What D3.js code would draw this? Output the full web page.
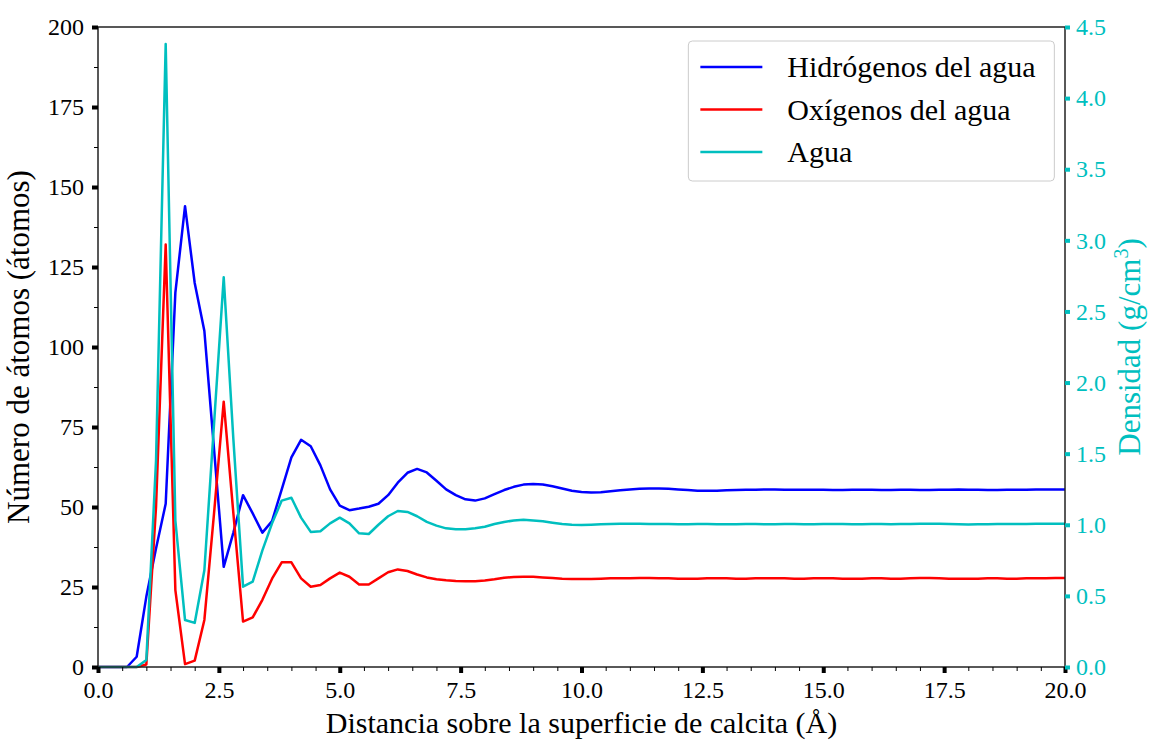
<!DOCTYPE html>
<html>
<head>
<meta charset="utf-8">
<script src="https://cdn.jsdelivr.net/npm/d3@7"></script>
<style>
  body { margin: 0; background: #fff; }
  text { font-family: "Liberation Serif", "Times New Roman", serif; }
</style>
</head>
<body>
<div id="chart"></div>
<script>
// distances (Å), sampled every 0.2
var distances = d3.range(0, 101).map(i => +(i * 0.2).toFixed(1));

// number of water hydrogens
var hydrogens = [
  0, 0, 0, 0, 3.2, 22, 37, 51, 117, 144,
  120, 105, 68, 31.3, 42, 53.7, 48, 42, 45.6, 55.5,
  65.5, 71, 69, 63, 55.5, 50.4, 49, 49.5, 50.1, 51,
  53.7, 57.6, 60.7, 61.9, 60.8, 58.2, 55.5, 53.7, 52.4, 52,
  52.7, 54, 55.3, 56.3, 57, 57.2, 57, 56.5, 55.8, 55.1,
  54.7, 54.5, 54.6, 54.9, 55.2, 55.5, 55.7, 55.8, 55.8, 55.7,
  55.5, 55.3, 55.1, 55.1, 55.1, 55.2, 55.3, 55.4, 55.4, 55.5,
  55.5, 55.4, 55.4, 55.4, 55.4, 55.4, 55.3, 55.3, 55.4, 55.4,
  55.4, 55.3, 55.3, 55.4, 55.4, 55.3, 55.3, 55.4, 55.4, 55.5,
  55.4, 55.4, 55.3, 55.3, 55.4, 55.4, 55.4, 55.5, 55.5, 55.5,
  55.5
];

// number of water oxygens
var oxygens = [
  0, 0, 0, 0, 0, 0.8, 50, 132, 24, 0.9,
  2, 14.7, 48, 82.9, 48, 14.2, 15.5, 21, 27.6, 32.7,
  32.7, 27.7, 25.1, 25.6, 27.7, 29.5, 28.2, 25.8, 25.8, 27.7,
  29.6, 30.5, 30, 28.9, 28, 27.4, 27.1, 26.9, 26.8, 26.8,
  27, 27.4, 27.9, 28.1, 28.2, 28.2, 28, 27.8, 27.6, 27.5,
  27.5, 27.5, 27.6, 27.7, 27.7, 27.7, 27.8, 27.8, 27.7, 27.7,
  27.6, 27.6, 27.6, 27.7, 27.7, 27.7, 27.6, 27.6, 27.7, 27.7,
  27.7, 27.7, 27.6, 27.6, 27.7, 27.7, 27.7, 27.6, 27.6, 27.6,
  27.7, 27.7, 27.6, 27.6, 27.7, 27.8, 27.8, 27.7, 27.6, 27.6,
  27.6, 27.6, 27.7, 27.7, 27.6, 27.6, 27.7, 27.7, 27.7, 27.8,
  27.8
];

// water density (g/cm3)
var density = [
  0, 0, 0, 0, 0, 0.05, 1.45, 4.38, 1.03, 0.33,
  0.31, 0.68, 1.71, 2.74, 1.6, 0.565, 0.6, 0.82, 1.01, 1.17,
  1.19, 1.05, 0.95, 0.955, 1.01, 1.05, 1.01, 0.94, 0.935, 1.0,
  1.06, 1.097, 1.09, 1.06, 1.02, 0.994, 0.975, 0.968, 0.968, 0.975,
  0.986, 1.005, 1.02, 1.03, 1.035, 1.03, 1.025, 1.015, 1.005, 1.0,
  0.998, 1.0, 1.003, 1.006, 1.008, 1.008, 1.007, 1.006, 1.005, 1.005,
  1.004, 1.004, 1.005, 1.005, 1.004, 1.003, 1.004, 1.005, 1.005, 1.004,
  1.004, 1.005, 1.005, 1.004, 1.004, 1.005, 1.006, 1.005, 1.004, 1.004,
  1.005, 1.005, 1.004, 1.005, 1.006, 1.007, 1.008, 1.007, 1.005, 1.003,
  1.002, 1.003, 1.004, 1.005, 1.005, 1.006, 1.006, 1.007, 1.007, 1.007,
  1.007
];

var seriesNames = ["Hidrógenos del agua", "Oxígenos del agua", "Agua"];
var xTicks = [0, 2.5, 5, 7.5, 10, 12.5, 15, 17.5, 20];
var yTicks = [0, 25, 50, 75, 100, 125, 150, 175, 200];
var y2Ticks = [0, 0.5, 1, 1.5, 2, 2.5, 3, 3.5, 4, 4.5];

//chart area
var svgWidth = 1149;
var svgHeight = 740;
var margin = { top: 27, right: 84, bottom: 73, left: 98 };
var width = svgWidth - margin.left - margin.right;
var height = svgHeight - margin.top - margin.bottom;

var cyan = "#00bfbf";

var svg = d3.select("#chart")
  .append("svg")
  .attr("width", svgWidth)
  .attr("height", svgHeight);

var chartGroup = svg.append("g")
  .attr("transform", `translate(${margin.left}, ${margin.top})`);

//scales
var x = d3.scaleLinear().domain([0, 20]).range([0, width]);
var y = d3.scaleLinear().domain([0, 200]).range([height, 0]);
var y2 = d3.scaleLinear().domain([0, 4.5]).range([height, 0]);

//lines
var lineLeft = vals => d3.line()
  .x((d, i) => x(distances[i]))
  .y(d => y(d))(vals);
var lineRight = vals => d3.line()
  .x((d, i) => x(distances[i]))
  .y(d => y2(d))(vals);

var plotArea = chartGroup.append("g");
plotArea.append("path").attr("d", lineLeft(hydrogens))
  .attr("fill", "none").attr("stroke", "#0000ff").attr("stroke-width", 2.5).attr("stroke-linejoin", "round");
plotArea.append("path").attr("d", lineLeft(oxygens))
  .attr("fill", "none").attr("stroke", "#ff0000").attr("stroke-width", 2.5).attr("stroke-linejoin", "round");
plotArea.append("path").attr("d", lineRight(density))
  .attr("fill", "none").attr("stroke", cyan).attr("stroke-width", 2.5).attr("stroke-linejoin", "round");

//frame
chartGroup.append("rect")
  .attr("width", width).attr("height", height)
  .attr("fill", "none").attr("stroke", "#222").attr("stroke-width", 1.5);

// minor ticks
var xMinor = d3.range(0, 20.01, 0.5).filter(v => Math.abs(v / 2.5 - Math.round(v / 2.5)) > 1e-6);
chartGroup.append("g")
  .attr("transform", `translate(0, ${height})`)
  .call(d3.axisBottom(x).tickValues(xMinor).tickSize(4).tickFormat(""))
  .call(g => g.select(".domain").remove())
  .selectAll("line").attr("stroke", "#000").attr("stroke-width", 1);

var yMinor = d3.range(12.5, 200, 25);
chartGroup.append("g")
  .call(d3.axisLeft(y).tickValues(yMinor).tickSize(4).tickFormat(""))
  .call(g => g.select(".domain").remove())
  .selectAll("line").attr("stroke", "#000").attr("stroke-width", 1);

// bottom axis
var xAxis = chartGroup.append("g")
  .attr("transform", `translate(0, ${height})`)
  .call(d3.axisBottom(x).tickValues(xTicks).tickSize(6).tickPadding(8).tickFormat(d3.format(".1f")));
xAxis.select(".domain").remove();
xAxis.selectAll("line").attr("stroke", "#000").attr("stroke-width", 4);
xAxis.selectAll("text").attr("font-size", "24px").attr("fill", "#000");

// left axis
var yAxis = chartGroup.append("g")
  .call(d3.axisLeft(y).tickValues(yTicks).tickSize(6).tickPadding(8));
yAxis.select(".domain").remove();
yAxis.selectAll("line").attr("stroke", "#000").attr("stroke-width", 4);
yAxis.selectAll("text").attr("font-size", "24px").attr("fill", "#000");

// right axis
var y2Axis = chartGroup.append("g")
  .attr("transform", `translate(${width}, 0)`)
  .call(d3.axisRight(y2).tickValues(y2Ticks).tickSize(5).tickPadding(6).tickFormat(d3.format(".1f")));
y2Axis.select(".domain").remove();
y2Axis.selectAll("line").attr("stroke", cyan).attr("stroke-width", 4);
y2Axis.selectAll("text").attr("font-size", "24px").attr("fill", cyan);

// axis labels
chartGroup.append("text")
  .attr("x", width / 2)
  .attr("y", height + 66)
  .attr("text-anchor", "middle")
  .attr("font-size", "30px")
  .text("Distancia sobre la superficie de calcita (Å)");

chartGroup.append("text")
  .attr("transform", "rotate(-90)")
  .attr("x", -height / 2)
  .attr("y", -69)
  .attr("text-anchor", "middle")
  .attr("font-size", "31px")
  .text("Número de átomos (átomos)");

var y2Label = chartGroup.append("text")
  .attr("transform", "rotate(-90)")
  .attr("x", -height / 2)
  .attr("y", width + 75)
  .attr("text-anchor", "middle")
  .attr("font-size", "31px")
  .attr("fill", cyan);
y2Label.append("tspan").text("Densidad (g/cm");
y2Label.append("tspan").attr("font-size", "20px").attr("dy", "-12").text("3");
y2Label.append("tspan").attr("dy", "12").text(")");

// legend
var legend = chartGroup.append("g")
  .attr("transform", `translate(${x(12.21)}, 14)`);
legend.append("rect")
  .attr("width", 366).attr("height", 140)
  .attr("rx", 4)
  .attr("fill", "#fff").attr("stroke", "#cccccc").attr("stroke-width", 1);
var legendColors = ["#0000ff", "#ff0000", cyan];
seriesNames.forEach(function(name, i) {
  var row = legend.append("g").attr("transform", `translate(0, ${26 + i * 42.5})`);
  row.append("line")
    .attr("x1", 12).attr("x2", 74)
    .attr("stroke", legendColors[i]).attr("stroke-width", 2.5);
  row.append("text")
    .attr("x", 99).attr("y", 10)
    .attr("font-size", "30px")
    .text(name);
});
</script>
</body>
</html>
